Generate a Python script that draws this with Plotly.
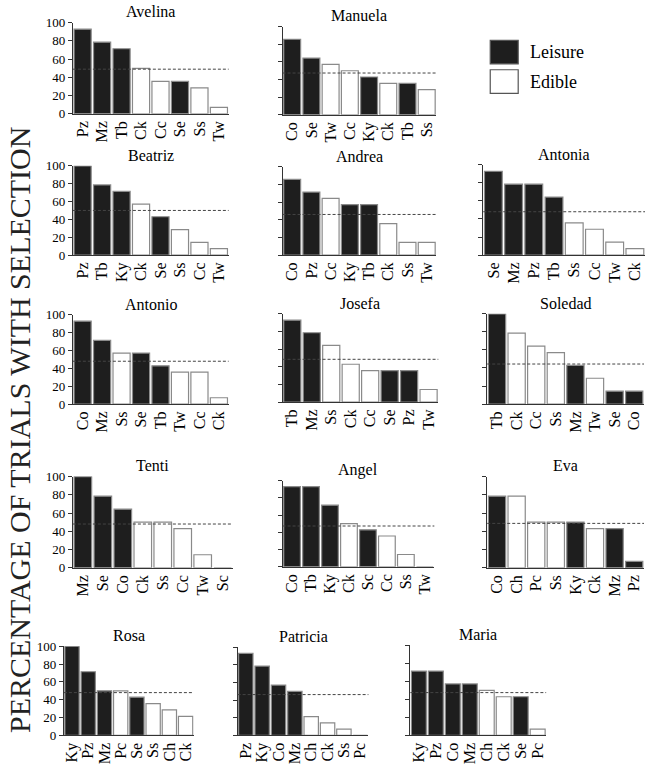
import plotly.graph_objects as go

W, H = 646, 766

# ---------------- data ----------------
names = ["Avelina", "Manuela", "Beatriz", "Andrea", "Antonia", "Antonio", "Josefa",
         "Soledad", "Tenti", "Angel", "Eva", "Rosa", "Patricia", "Maria"]

avelina_items = ["Pz", "Mz", "Tb", "Ck", "Cc", "Se", "Ss", "Tw"]
avelina_vals = [92.9, 78.6, 71.4, 50.0, 35.7, 35.7, 28.6, 7.1]
manuela_items = ["Co", "Se", "Tw", "Cc", "Ky", "Ck", "Tb", "Ss"]
manuela_vals = [85.7, 64.3, 57.1, 50.0, 42.9, 35.7, 35.7, 28.6]
beatriz_items = ["Pz", "Tb", "Ky", "Ck", "Se", "Ss", "Cc", "Tw"]
beatriz_vals = [100.0, 78.6, 71.4, 57.1, 42.9, 28.6, 14.3, 7.1]
andrea_items = ["Co", "Pz", "Cc", "Ky", "Tb", "Ck", "Ss", "Tw"]
andrea_vals = [85.7, 71.4, 64.3, 57.1, 57.1, 35.7, 14.3, 14.3]
antonia_items = ["Se", "Mz", "Pz", "Tb", "Ss", "Cc", "Tw", "Ck"]
antonia_vals = [92.9, 78.6, 78.6, 64.3, 35.7, 28.6, 14.3, 7.1]
antonio_items = ["Co", "Mz", "Ss", "Se", "Tb", "Tw", "Cc", "Ck"]
antonio_vals = [92.9, 71.4, 57.1, 57.1, 42.9, 35.7, 35.7, 7.1]
josefa_items = ["Tb", "Mz", "Ss", "Ck", "Cc", "Se", "Pz", "Tw"]
josefa_vals = [92.9, 78.6, 64.3, 42.9, 35.7, 35.7, 35.7, 14.3]
soledad_items = ["Tb", "Ck", "Cc", "Ss", "Mz", "Tw", "Se", "Co"]
soledad_vals = [100.0, 78.6, 64.3, 57.1, 42.9, 28.6, 14.3, 14.3]
tenti_items = ["Mz", "Se", "Co", "Ck", "Ss", "Cc", "Tw", "Sc"]
tenti_vals = [100.0, 78.6, 64.3, 50.0, 50.0, 42.9, 14.3, 0.0]
angel_items = ["Co", "Tb", "Ky", "Ck", "Sc", "Cc", "Ss", "Tw"]
angel_vals = [92.9, 92.9, 71.4, 50.0, 42.9, 35.7, 14.3, 0.0]
eva_items = ["Co", "Ch", "Pc", "Ss", "Ky", "Ck", "Mz", "Pz"]
eva_vals = [78.6, 78.6, 50.0, 50.0, 50.0, 42.9, 42.9, 7.1]
rosa_items = ["Ky", "Pz", "Mz", "Pc", "Se", "Ss", "Ch", "Ck"]
rosa_vals = [100.0, 71.4, 50.0, 50.0, 42.9, 35.7, 28.6, 21.4]
patricia_items = ["Pz", "Ky", "Co", "Mz", "Ch", "Ck", "Ss", "Pc"]
patricia_vals = [92.9, 78.6, 57.1, 50.0, 21.4, 14.3, 7.1, 0.0]
maria_items = ["Ky", "Pz", "Co", "Mz", "Ch", "Ck", "Se", "Pc"]
maria_vals = [71.4, 71.4, 57.1, 57.1, 50.0, 42.9, 42.9, 7.1]

# dashed reference level per panel
thresholds = [49, 47.4, 50, 46, 48, 48, 48.5, 44.4, 48, 47.3, 48.7, 48, 46.3, 47.5]

leisure_items = ["Pz", "Mz", "Tb", "Se", "Co", "Ky", "Sc"]
edible_items = ["Ck", "Cc", "Ss", "Tw", "Ch", "Pc"]
legend_labels = ["Leisure", "Edible"]
y_ticks = [0, 20, 40, 60, 80, 100]

panel_items = [avelina_items, manuela_items, beatriz_items, andrea_items, antonia_items,
               antonio_items, josefa_items, soledad_items, tenti_items, angel_items,
               eva_items, rosa_items, patricia_items, maria_items]
panel_vals = [avelina_vals, manuela_vals, beatriz_vals, andrea_vals, antonia_vals,
              antonio_vals, josefa_vals, soledad_vals, tenti_vals, angel_vals,
              eva_vals, rosa_vals, patricia_vals, maria_vals]

# ---------------- layout (pixel boxes: x0, x1, ytop, ybottom) ----------------
boxes = [
    (72, 228, 16, 109), (282, 436, 20, 110),
    (72, 228, 162, 253), (282, 436, 163, 253), (483, 645, 161, 253),
    (72, 228, 314, 405), (282, 438, 313, 403), (487, 644, 313, 405),
    (72, 232, 479, 572), (282, 434, 483, 571), (487, 644, 479, 572),
    (63, 193, 652, 743), (237, 368, 653, 743), (410, 546, 651, 743),
]
labelled = {"Avelina", "Beatriz", "Antonio", "Tenti", "Rosa"}

SERIF = "Liberation Serif"
BLACK = "#1e1e1e"
EDGE = "#8a8a8a"

fig = go.Figure()
layout = {}
annotations = []
shapes = []

def px_x(v):
    return v / W

def px_y(v):
    return 1 - v / H

for i, (name, items, vals, thr, box) in enumerate(zip(names, panel_items, panel_vals, thresholds, boxes)):
    k = i + 1
    xa = "x" if k == 1 else f"x{k}"
    ya = "y" if k == 1 else f"y{k}"
    colors = [BLACK if it in leisure_items else "white" for it in items]
    fig.add_trace(go.Bar(
        x=items, y=vals, xaxis=xa, yaxis=ya,
        marker=dict(color=colors, line=dict(color=EDGE, width=1.2)),
        showlegend=False, hoverinfo="x+y",
    ))
    x0, x1, yt, yb = box
    layout["xaxis" if k == 1 else f"xaxis{k}"] = dict(
        domain=[px_x(x0), px_x(x1)], anchor=ya, type="category",
        range=[-0.5, len(items) - 0.5],
        tickmode="array", tickvals=list(range(len(items))), ticktext=items,
        showline=True, linecolor="#333", linewidth=1, ticks="",
        tickangle=-90, tickfont=dict(family=SERIF, size=16, color="black"),
        showgrid=False, zeroline=False, fixedrange=True,
    )
    layout["yaxis" if k == 1 else f"yaxis{k}"] = dict(
        domain=[px_y(yb), px_y(yt)], anchor=xa, range=[0, 100],
        tickvals=y_ticks, ticks="outside", ticklen=4, tickcolor="#333",
        showline=True, linecolor="#333", linewidth=1,
        showticklabels=name in labelled,
        tickfont=dict(family=SERIF, size=13, color="black"),
        showgrid=False, zeroline=False, fixedrange=True,
    )
    shapes.append(dict(
        type="line", xref=f"{xa} domain", yref=ya, x0=0, x1=1, y0=thr, y1=thr,
        line=dict(color="#444", width=1, dash="3px,2px"), layer="above",
    ))
    annotations.append(dict(
        text=name, xref="paper", yref="paper",
        x=px_x((x0 + x1) / 2), y=px_y(yt - 11),
        xanchor="center", yanchor="middle", showarrow=False,
        font=dict(family=SERIF, size=16, color="black"),
    ))

# legend (drawn)
leg_fill = [BLACK, "white"]
leg_tops = [34, 64]
for lab, fill, top in zip(legend_labels, leg_fill, leg_tops):
    shapes.append(dict(
        type="rect", xref="paper", yref="paper",
        x0=px_x(490), x1=px_x(518), y0=px_y(top + 24), y1=px_y(top),
        fillcolor=fill, line=dict(color="#555", width=1.2),
    ))
    annotations.append(dict(
        text=lab, xref="paper", yref="paper", x=px_x(528), y=px_y(top + 12),
        xanchor="left", yanchor="middle", showarrow=False,
        font=dict(family=SERIF, size=18, color="black"),
    ))

# global y label
annotations.append(dict(
    text="PERCENTAGE OF TRIALS WITH SELECTION", xref="paper", yref="paper",
    x=0, y=px_y(432), xanchor="left", yanchor="middle",
    textangle=-90, showarrow=False,
    font=dict(family=SERIF, size=30, color="#222"),
))

fig.update_layout(
    width=W, height=H, margin=dict(l=0, r=0, t=0, b=0),
    paper_bgcolor="white", plot_bgcolor="white",
    bargap=0.12, showlegend=False,
    annotations=annotations, shapes=shapes, **layout,
)

fig.write_html(
    "out.html",
    config={"displayModeBar": False},
    post_script="document.documentElement.style.margin='0';document.body.style.margin='0';document.body.style.padding='0';document.body.style.overflow='hidden';",
)
